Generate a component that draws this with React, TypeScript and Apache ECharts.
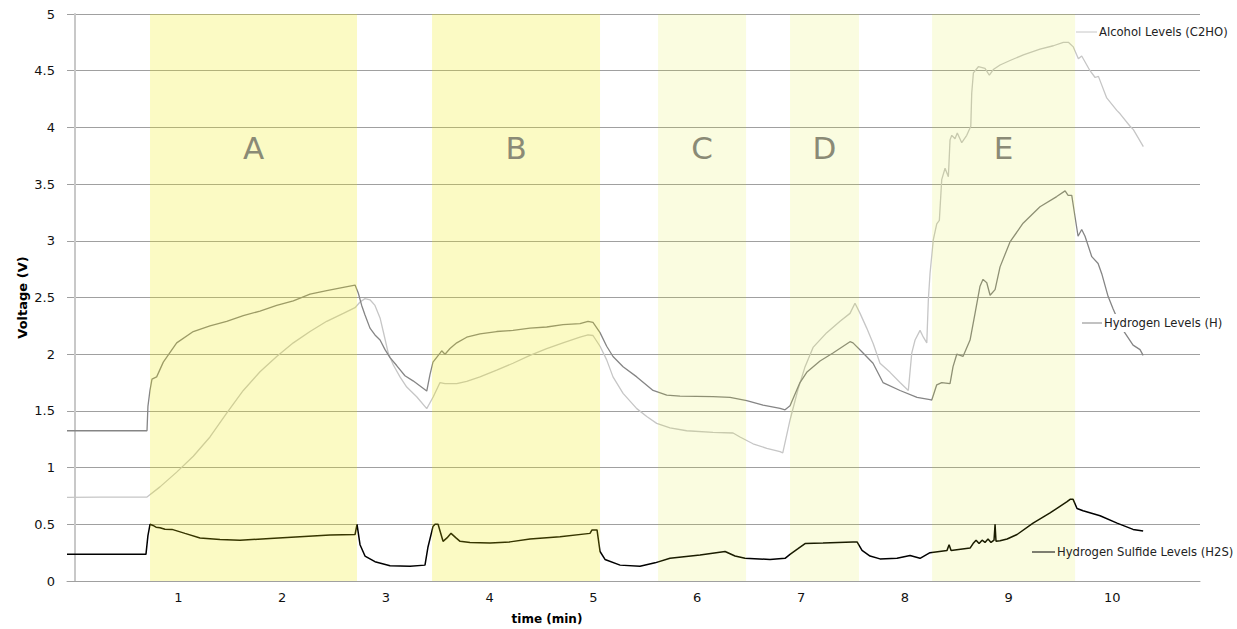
import React, { useEffect, useRef } from "react";
import * as echarts from "echarts";

// ---- data (time in minutes, voltage in V) ----
const xTickValues = [1, 2, 3, 4, 5, 6, 7, 8, 9, 10];
const seriesNames = ["Alcohol Levels (C2HO)", "Hydrogen Levels (H)", "Hydrogen Sulfide Levels (H2S)"];
const regionNames = ["A", "B", "C", "D", "E"];
const regionStart = [0.726, 3.444, 5.622, 6.894, 8.263];
const regionEnd = [2.721, 5.063, 6.47, 7.559, 9.641];
const regionStrong = [1, 1, 0, 0, 0];
const regionLetterLevel = 3.82;

const alcohol: [number, number][] = [
  [-0.074, 0.738], [0.244, 0.74], [0.697, 0.74], [0.822, 0.83], [0.983, 0.96], [1.143, 1.1], [1.304, 1.27],
  [1.465, 1.48], [1.625, 1.68], [1.786, 1.845], [1.947, 1.98], [2.107, 2.1], [2.268, 2.2], [2.429, 2.29],
  [2.589, 2.36], [2.702, 2.41], [2.75, 2.46], [2.798, 2.49], [2.846, 2.48], [2.894, 2.43], [2.943, 2.32],
  [2.974, 2.2], [3.022, 2.01], [3.071, 1.905], [3.135, 1.8], [3.2, 1.71], [3.296, 1.625], [3.393, 1.52],
  [3.456, 1.625], [3.521, 1.75], [3.569, 1.74], [3.682, 1.74], [3.778, 1.76], [3.906, 1.8], [4.067, 1.86],
  [4.224, 1.92], [4.388, 1.99], [4.549, 2.05], [4.706, 2.1], [4.87, 2.15], [4.947, 2.17], [4.995, 2.165],
  [5.063, 2.07], [5.127, 1.95], [5.188, 1.8], [5.285, 1.655], [5.417, 1.52], [5.513, 1.45], [5.609, 1.39],
  [5.737, 1.35], [5.898, 1.325], [6.152, 1.31], [6.345, 1.305], [6.412, 1.27], [6.537, 1.21], [6.67, 1.17],
  [6.798, 1.14], [6.824, 1.13], [6.894, 1.42], [6.971, 1.69], [7.039, 1.89], [7.116, 2.06], [7.248, 2.19],
  [7.376, 2.29], [7.472, 2.36], [7.52, 2.45], [7.569, 2.36], [7.633, 2.23], [7.697, 2.09], [7.761, 1.92],
  [7.858, 1.84], [7.954, 1.75], [8.034, 1.68], [8.067, 2.01], [8.099, 2.125], [8.147, 2.21], [8.179, 2.15],
  [8.212, 2.1], [8.227, 2.48], [8.243, 2.71], [8.275, 3.01], [8.308, 3.15], [8.333, 3.18], [8.356, 3.54],
  [8.388, 3.64], [8.42, 3.565], [8.436, 3.89], [8.453, 3.93], [8.484, 3.9], [8.506, 3.95], [8.549, 3.865],
  [8.597, 3.93], [8.636, 4.01], [8.645, 4.3], [8.661, 4.48], [8.709, 4.535], [8.773, 4.52], [8.815, 4.46],
  [8.853, 4.51], [8.918, 4.55], [9.014, 4.59], [9.143, 4.64], [9.303, 4.69], [9.432, 4.72], [9.528, 4.75],
  [9.576, 4.75], [9.624, 4.71], [9.673, 4.605], [9.705, 4.63], [9.785, 4.5], [9.834, 4.44], [9.866, 4.45],
  [9.946, 4.26], [10.043, 4.15], [10.075, 4.12], [10.171, 4.01], [10.203, 3.98], [10.299, 3.83],
];

const hydrogen: [number, number][] = [
  [-0.074, 1.325], [0.697, 1.325], [0.706, 1.54], [0.726, 1.684], [0.745, 1.78], [0.79, 1.8], [0.854, 1.93],
  [0.983, 2.1], [1.143, 2.2], [1.304, 2.25], [1.465, 2.29], [1.625, 2.34], [1.786, 2.38], [1.947, 2.43],
  [2.107, 2.47], [2.268, 2.53], [2.429, 2.56], [2.589, 2.59], [2.702, 2.61], [2.733, 2.54], [2.766, 2.43],
  [2.798, 2.345], [2.846, 2.23], [2.894, 2.17], [2.943, 2.125], [2.991, 2.04], [3.039, 1.97], [3.103, 1.9],
  [3.183, 1.81], [3.261, 1.765], [3.393, 1.675], [3.424, 1.82], [3.453, 1.93], [3.521, 2.01], [3.537, 2.03],
  [3.569, 2.0], [3.617, 2.05], [3.682, 2.1], [3.778, 2.15], [3.906, 2.18], [4.067, 2.2], [4.224, 2.21],
  [4.388, 2.23], [4.549, 2.24], [4.706, 2.26], [4.87, 2.27], [4.947, 2.29], [4.995, 2.28], [5.063, 2.19],
  [5.127, 2.07], [5.188, 1.98], [5.285, 1.89], [5.417, 1.8], [5.574, 1.68], [5.706, 1.64], [5.834, 1.63],
  [6.152, 1.625], [6.316, 1.62], [6.477, 1.59], [6.634, 1.55], [6.798, 1.523], [6.846, 1.51], [6.894, 1.545],
  [6.99, 1.75], [7.055, 1.84], [7.183, 1.94], [7.308, 2.01], [7.472, 2.11], [7.501, 2.1], [7.598, 2.01],
  [7.694, 1.92], [7.79, 1.75], [7.954, 1.68], [8.118, 1.62], [8.243, 1.6], [8.26, 1.596], [8.308, 1.73],
  [8.356, 1.75], [8.436, 1.74], [8.465, 1.89], [8.501, 2.0], [8.561, 1.98], [8.629, 2.125], [8.677, 2.36],
  [8.725, 2.6], [8.754, 2.66], [8.79, 2.63], [8.822, 2.52], [8.87, 2.57], [8.918, 2.77], [9.014, 2.99],
  [9.14, 3.155], [9.303, 3.3], [9.464, 3.39], [9.545, 3.44], [9.574, 3.4], [9.609, 3.4], [9.641, 3.21],
  [9.67, 3.04], [9.705, 3.1], [9.737, 3.04], [9.802, 2.86], [9.863, 2.8], [9.898, 2.71], [9.959, 2.51],
  [10.007, 2.4], [10.055, 2.3], [10.113, 2.2], [10.2, 2.08], [10.267, 2.04], [10.297, 1.99],
];

const h2s: [number, number][] = [
  [-0.074, 0.235], [0.687, 0.235], [0.706, 0.4], [0.726, 0.5], [0.755, 0.49], [0.784, 0.475], [0.822, 0.47],
  [0.87, 0.456], [0.938, 0.455], [1.063, 0.42], [1.208, 0.38], [1.4, 0.365], [1.593, 0.36], [1.882, 0.375],
  [2.171, 0.39], [2.461, 0.405], [2.702, 0.41], [2.721, 0.5], [2.75, 0.32], [2.798, 0.22], [2.894, 0.17],
  [3.039, 0.135], [3.232, 0.13], [3.376, 0.14], [3.405, 0.3], [3.453, 0.48], [3.473, 0.5], [3.502, 0.5],
  [3.55, 0.35], [3.588, 0.38], [3.627, 0.42], [3.675, 0.38], [3.714, 0.35], [3.81, 0.34], [4.003, 0.335],
  [4.195, 0.345], [4.388, 0.37], [4.677, 0.39], [4.966, 0.42], [4.986, 0.45], [5.034, 0.45], [5.063, 0.26],
  [5.111, 0.19], [5.256, 0.14], [5.448, 0.13], [5.593, 0.16], [5.737, 0.2], [6.027, 0.23], [6.268, 0.26],
  [6.364, 0.22], [6.46, 0.2], [6.701, 0.19], [6.846, 0.2], [6.894, 0.235], [6.971, 0.285], [7.039, 0.33],
  [7.212, 0.335], [7.501, 0.345], [7.54, 0.345], [7.588, 0.27], [7.665, 0.22], [7.761, 0.195], [7.925, 0.2],
  [8.051, 0.225], [8.147, 0.2], [8.243, 0.25], [8.407, 0.27], [8.427, 0.32], [8.446, 0.27], [8.629, 0.29],
  [8.658, 0.33], [8.687, 0.36], [8.716, 0.33], [8.745, 0.36], [8.773, 0.34], [8.802, 0.37], [8.831, 0.34],
  [8.86, 0.36], [8.87, 0.5], [8.879, 0.35], [8.918, 0.355], [8.986, 0.37], [9.082, 0.41], [9.236, 0.51],
  [9.4, 0.6], [9.564, 0.7], [9.593, 0.72], [9.622, 0.72], [9.66, 0.64], [9.718, 0.62], [9.882, 0.575],
  [10.046, 0.51], [10.2, 0.455], [10.297, 0.44],
];

const FONT = '"DejaVu Sans", Verdana, sans-serif';
const lineColors = ["#c6c6c6", "#858585", "#000000"];

export default function App() {
  const ref = useRef<HTMLDivElement>(null);
  useEffect(() => {
    if (!ref.current) return;
    const chart = echarts.init(ref.current, undefined, { renderer: "svg" });
    const lines = [alcohol, hydrogen, h2s].map((d, i) => ({
      name: seriesNames[i],
      type: "line",
      data: d,
      showSymbol: false,
      symbol: "none",
      z: 2,
      lineStyle: { color: lineColors[i], width: i === 2 ? 1.5 : 1.3 },
      silent: true,
    }));
    const option: any = {
      animation: false,
      grid: { left: 67, right: 37, top: 14, bottom: 48 },
      xAxis: {
        type: "value",
        min: -0.074,
        max: 10.845,
        axisLine: { show: true, lineStyle: { color: "#a0a0a0", width: 1 } },
        axisTick: { show: false },
        splitLine: { show: false },
        axisLabel: {
          customValues: xTickValues,
          fontFamily: FONT,
          fontSize: 13,
          color: "#111",
          margin: 10,
          formatter: (v: number) => String(v),
        },
      },
      yAxis: {
        type: "value",
        min: 0,
        max: 5,
        interval: 0.5,
        name: "Voltage (V)",
        nameLocation: "middle",
        nameGap: 38,
        nameMoveOverlap: false,
        nameRotate: 90,
        nameTextStyle: { fontFamily: FONT, fontWeight: "bold", fontSize: 13, color: "#000" },
        axisLine: { show: true, lineStyle: { color: "#c8c8c8", width: 2 } },
        axisTick: { show: false },
        splitLine: { show: true, lineStyle: { color: "#a0a0a0", width: 1 } },
        axisLabel: { fontFamily: FONT, fontSize: 13, color: "#111", margin: 12 },
      },
      series: [
        ...lines,
        {
          type: "custom",
          z: 3,
          silent: true,
          data: regionStart.map((s, i) => [s, regionEnd[i], regionStrong[i]]),
          renderItem: (params: any, api: any) => {
            const t0 = api.value(0);
            const t1 = api.value(1);
            const strong = api.value(2);
            const p0 = api.coord([t0, 5]);
            const p1 = api.coord([t1, 0]);
            const pl = api.coord([(t0 + t1) / 2, regionLetterLevel]);
            return {
              type: "group",
              children: [
                {
                  type: "rect",
                  shape: { x: p0[0], y: p0[1], width: p1[0] - p0[0], height: p1[1] - p0[1] },
                  style: { fill: strong ? "rgba(238,234,0,0.23)" : "rgba(215,230,0,0.12)" },
                },
                {
                  type: "text",
                  style: {
                    text: regionNames[params.dataIndex],
                    x: pl[0],
                    y: pl[1],
                    align: "center",
                    verticalAlign: "middle",
                    fill: "#8a8a76",
                    fontSize: 31,
                    fontFamily: FONT,
                  },
                },
              ],
            };
          },
        },
      ],
      graphic: [
        { type: "line", z: 10, shape: { x1: 1076, y1: 32, x2: 1097, y2: 32 }, style: { stroke: lineColors[0], lineWidth: 1 } },
        { type: "text", z: 10, x: 1099, y: 32, style: { text: seriesNames[0], fill: "#222", fontSize: 11.6, fontFamily: FONT, verticalAlign: "middle" } },
        { type: "text", z: 10, x: 1102, y: 323, style: { text: seriesNames[1], fill: "#222", fontSize: 11.6, fontFamily: FONT, verticalAlign: "middle", backgroundColor: "#fff", padding: [3, 2, 3, 2] } },
        { type: "line", z: 11, shape: { x1: 1082, y1: 323, x2: 1102, y2: 323 }, style: { stroke: lineColors[1], lineWidth: 1 } },
        { type: "line", z: 10, shape: { x1: 1032, y1: 552, x2: 1055, y2: 552 }, style: { stroke: lineColors[2], lineWidth: 1 } },
        { type: "text", z: 10, x: 1057, y: 552, style: { text: seriesNames[2], fill: "#222", fontSize: 11.6, fontFamily: FONT, verticalAlign: "middle" } },
        { type: "text", z: 10, x: 547, y: 619, style: { text: "time (min)", fill: "#000", fontSize: 12, fontWeight: "bold", fontFamily: FONT, align: "center", verticalAlign: "middle" } },
      ],
    };
    chart.setOption(option);
    return () => chart.dispose();
  }, []);
  return <div ref={ref} style={{ position: "fixed", left: 0, top: 0, width: 1237, height: 629, background: "#fff" }} />;
}
